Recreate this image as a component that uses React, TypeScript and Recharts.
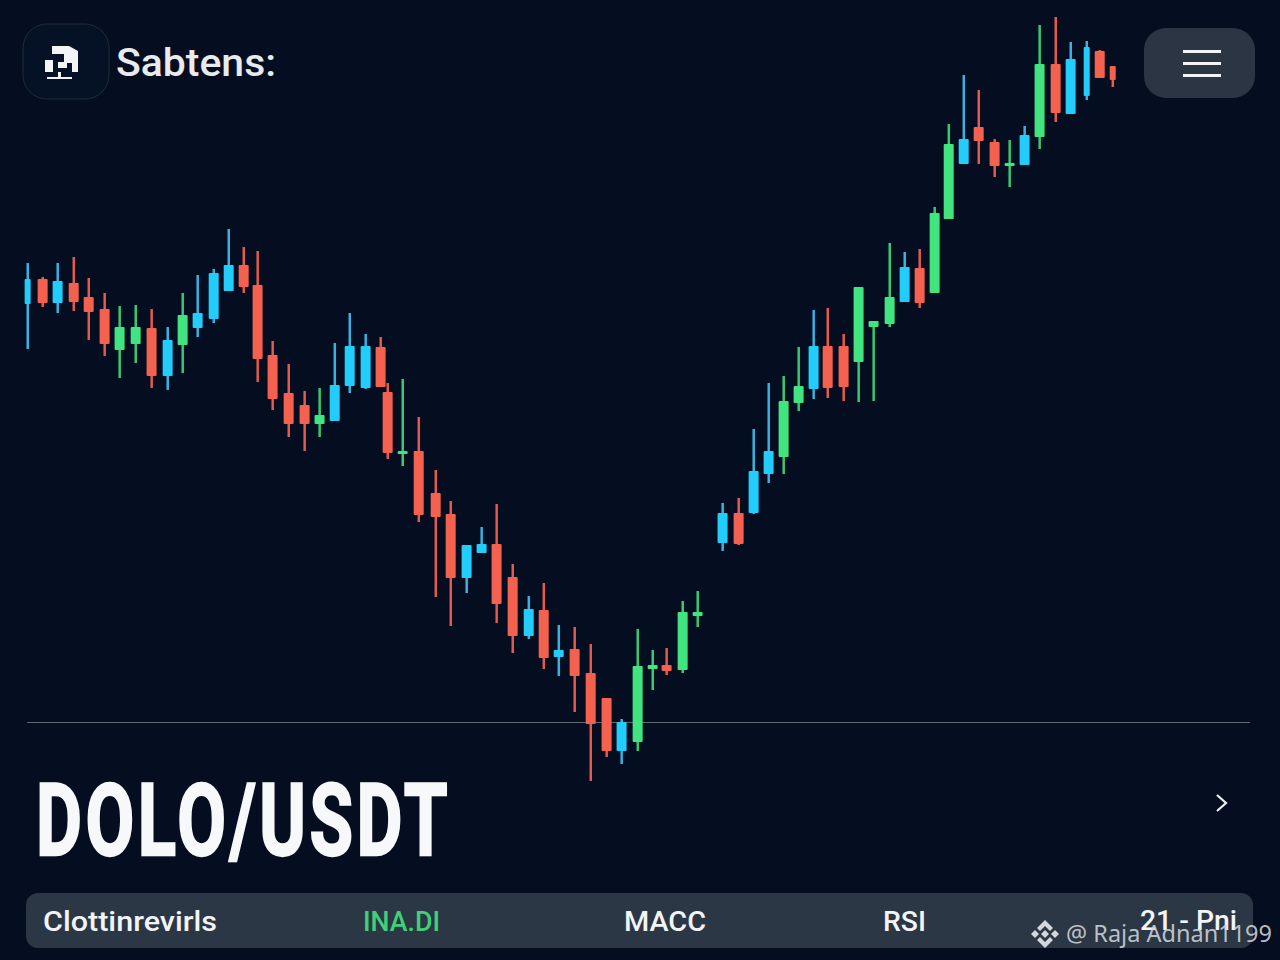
import { Bar, ComposedChart, Rectangle, XAxis, YAxis } from "recharts";

// time slots of the candles (one slot = one candle period, gaps and half steps as read)
const slots = [
  0, 0.98, 1.96, 3.01, 3.99, 5.03, 6.01, 7.06, 8.1, 9.15, 10.13, 11.11, 12.16, 13.14, 14.12, 15.03, 16.01, 17.06,
  18.1, 19.08, 20.07, 21.05, 22.09, 23.07, 23.53, 24.51, 25.56, 26.67, 27.65, 28.69, 29.67, 30.65, 31.7, 32.75,
  33.73, 34.71, 35.75, 36.8, 37.84, 38.82, 39.87, 40.85, 41.76, 42.81, 43.79, 45.42, 46.47, 47.45, 48.43, 49.41,
  50.39, 51.37, 52.29, 53.33, 54.31, 55.29, 56.34, 57.32, 58.3, 59.28, 60.2, 61.18, 62.16, 63.2, 64.18, 65.16,
  66.14, 67.19, 68.17, 69.22, 70.07, 70.92,
];
const highs = [
  697, 683, 697, 703, 682, 667, 654, 655, 651, 633, 667, 685, 691, 731, 713, 709, 619, 596, 569, 572, 617, 647, 626,
  623, 577, 581, 543, 490, 459, 415, 433, 456, 396, 364, 377, 335, 333, 316, 262, 241, 331, 310, 312, 359, 369, 457,
  462, 531, 577, 584, 613, 650, 652, 626, 673, 639, 717, 708, 711, 753, 836, 885, 870, 821, 820, 834, 935, 943, 918,
  919, 910, 894,
];
const bodyTops = [
  681, 681, 679, 677, 663, 651, 633, 633, 632, 620, 645, 647, 687, 695, 695, 675, 605, 567, 555, 545, 575, 614, 614,
  613, 568, 509, 509, 467, 446, 415, 416, 416, 383, 351, 350, 310, 311, 287, 262, 238, 294, 295, 295, 348, 348, 447,
  447, 489, 509, 559, 574, 614, 614, 614, 673, 639, 663, 693, 692, 747, 816, 821, 833, 818, 797, 825, 896, 896, 901,
  913, 909, 894,
];
const bodyBottoms = [
  656, 657, 657, 658, 648, 616, 610, 616, 584, 584, 615, 632, 641, 669, 673, 601, 561, 536, 536, 536, 539, 574, 572,
  573, 507, 506, 445, 443, 382, 382, 407, 356, 324, 324, 302, 303, 284, 236, 209, 209, 218, 291, 289, 290, 344, 417,
  416, 447, 486, 503, 557, 571, 572, 573, 598, 633, 636, 658, 657, 667, 741, 796, 819, 794, 794, 795, 823, 847, 846,
  864, 882, 880,
];
const lows = [
  611, 653, 647, 649, 620, 604, 582, 597, 572, 570, 587, 623, 637, 669, 667, 578, 550, 523, 509, 523, 539, 567, 571,
  573, 501, 494, 438, 363, 334, 367, 407, 337, 307, 321, 291, 284, 248, 179, 203, 196, 209, 270, 285, 287, 333, 409,
  415, 446, 477, 486, 549, 561, 562, 559, 558, 559, 633, 658, 652, 667, 741, 796, 796, 783, 773, 795, 811, 838, 846,
  860, 882, 873,
];
// b = blue, r = red, g = green candle
const kinds = [
  "b", "r", "b", "r", "r", "r", "g", "g", "r", "b", "g", "b", "b", "b", "r", "r", "r", "r", "r", "g", "b", "b", "b", "r",
  "r", "g", "r", "r", "r", "b", "b", "r", "r", "b", "r", "b", "r", "r", "r", "b", "g", "g", "r", "g", "g", "b", "r", "b",
  "b", "g", "g", "b", "r", "r", "g", "g", "g", "b", "r", "g", "g", "b", "r", "r", "g", "b", "g", "r", "b", "b", "r", "r",
];

const indicators = ["Clottinrevirls", "INA.DI", "MACC", "RSI", "21 - Pni"];

const BODY_COLORS: Record<string, string> = { b: "#22cdfc", r: "#f4614f", g: "#41e47f" };
const WICK_COLORS: Record<string, string> = { b: "#39b2df", r: "#e65a4e", g: "#37c872" };

const candles = slots.map((slot, i) => ({
  slot,
  kind: kinds[i],
  wick: [lows[i], highs[i]],
  body: [bodyBottoms[i], bodyTops[i]],
}));

// the first and the last candles are drawn thinner in the picture
const thinSlots = [0, 69.22, 70.92];

const WickShape = (props: any) => <Rectangle {...props} fill={WICK_COLORS[props.payload.kind]} />;

// the half-step slots make recharts clamp barSize, so the body width is set here
const BodyShape = (props: any) => {
  const w = thinSlots.includes(props.payload.slot) ? 6 : 10;
  return (
    <Rectangle
      {...props}
      x={props.x + props.width / 2 - w / 2}
      width={w}
      radius={1}
      fill={BODY_COLORS[props.payload.kind]}
    />
  );
};

const slotDomain = [-1.83, 81.83];

function Overlay() {
  const uiFont = "Roboto, sans-serif";
  return (
    <svg width={1280} height={960} style={{ position: "absolute", left: 0, top: 0 }}>
      {/* logo + title */}
      <rect x={23} y={24} width={86} height={75} rx={24} fill="#051226" stroke="#202c39" strokeWidth={1} />
      <path d="M45 60h8v12h-8zM52 46h17l9 5v21h-6v-9h-5v5h-9v-6h6v-8h-12zM47 77h25v2H47zM58 72h3v5h-3z" fill="#f2f4f6" />
      <text x={116} y={76} fontFamily={uiFont} fontSize={38} fontWeight={500} fill="#e8eaec" textLength={160} lengthAdjust="spacingAndGlyphs">
        Sabtens:
      </text>
      {/* menu button */}
      <rect x={1144} y={28} width={111} height={70} rx={22} fill="#2b3543" />
      <rect x={1183} y={50} width={38} height={3} fill="#f2f4f6" />
      <rect x={1183} y={62} width={38} height={3} fill="#f2f4f6" />
      <rect x={1183} y={74} width={38} height={3} fill="#f2f4f6" />
      {/* divider above the pair name */}
      <rect x={27} y={722} width={1223} height={1} fill="#5f6972" />
      {/* pair name */}
      <text x={36} y={855} fontFamily="Roboto, sans-serif" fontSize={101} fontWeight={700} fill="#f7f8f9" stroke="#f7f8f9" strokeWidth={2.4} letterSpacing={5} textLength={415} lengthAdjust="spacingAndGlyphs">
        DOLO/USDT
      </text>
      <path d="M1217 795l9 8-9 8" fill="none" stroke="#eef0f2" strokeWidth={2.2} />
      {/* indicator strip */}
      <rect x={26} y={893} width={1227} height={55} rx={12} fill="#2c3746" />
      <text x={43} y={931} fontFamily={uiFont} fontSize={28} fontWeight={500} fill="#f2f4f6" textLength={174} lengthAdjust="spacingAndGlyphs">
        {indicators[0]}
      </text>
      <text x={363} y={931} fontFamily={uiFont} fontSize={27} fontWeight={500} fill="#3fd078" textLength={77} lengthAdjust="spacingAndGlyphs">
        {indicators[1]}
      </text>
      <text x={624} y={931} fontFamily={uiFont} fontSize={28} fontWeight={500} fill="#f2f4f6" textLength={82} lengthAdjust="spacingAndGlyphs">
        {indicators[2]}
      </text>
      <text x={883} y={931} fontFamily={uiFont} fontSize={28} fontWeight={500} fill="#f2f4f6" textLength={43} lengthAdjust="spacingAndGlyphs">
        {indicators[3]}
      </text>
      <text x={1140} y={930} fontFamily={uiFont} fontSize={28} fontWeight={500} fill="#f2f4f6" textLength={97} lengthAdjust="spacingAndGlyphs">
        {indicators[4]}
      </text>
      {/* watermark */}
      <g fill="#d4d8dc" transform="translate(1045 934)">
        <path d="M0-14l8 8-3 3-5-5-5 5-3-3zM0 14l8-8-3-3-5 5-5-5-3 3zM0-4l4 4-4 4-4-4zM-10-4l4 4-4 4-4-4zM10-4l4 4-4 4-4-4z" />
      </g>
      <text x={1066} y={942} fontFamily="'Noto Sans', sans-serif" fontSize={24} fill="#cfd3d8" fillOpacity={0.9} textLength={206} lengthAdjust="spacingAndGlyphs">
        @ Raja Adnan1199
      </text>
    </svg>
  );
}

export default function App() {
  return (
    <div style={{ position: "absolute", left: 0, top: 0, width: 1280, height: 960, overflow: "hidden", background: "#040e20" }}>
      <Overlay />
      <div style={{ position: "absolute", left: 0, top: 0 }}>
        <ComposedChart width={1280} height={960} data={candles} margin={{ top: 0, right: 0, bottom: 0, left: 0 }}>
          <XAxis xAxisId="wick" dataKey="slot" type="number" domain={slotDomain} hide allowDataOverflow />
          <XAxis xAxisId="body" dataKey="slot" type="number" domain={slotDomain} hide allowDataOverflow />
          <YAxis domain={[0, 960]} hide />
          <Bar xAxisId="wick" dataKey="wick" barSize={2.5} shape={WickShape} isAnimationActive={false} />
          <Bar xAxisId="body" dataKey="body" barSize={10} shape={BodyShape} isAnimationActive={false} />
        </ComposedChart>
      </div>
    </div>
  );
}
